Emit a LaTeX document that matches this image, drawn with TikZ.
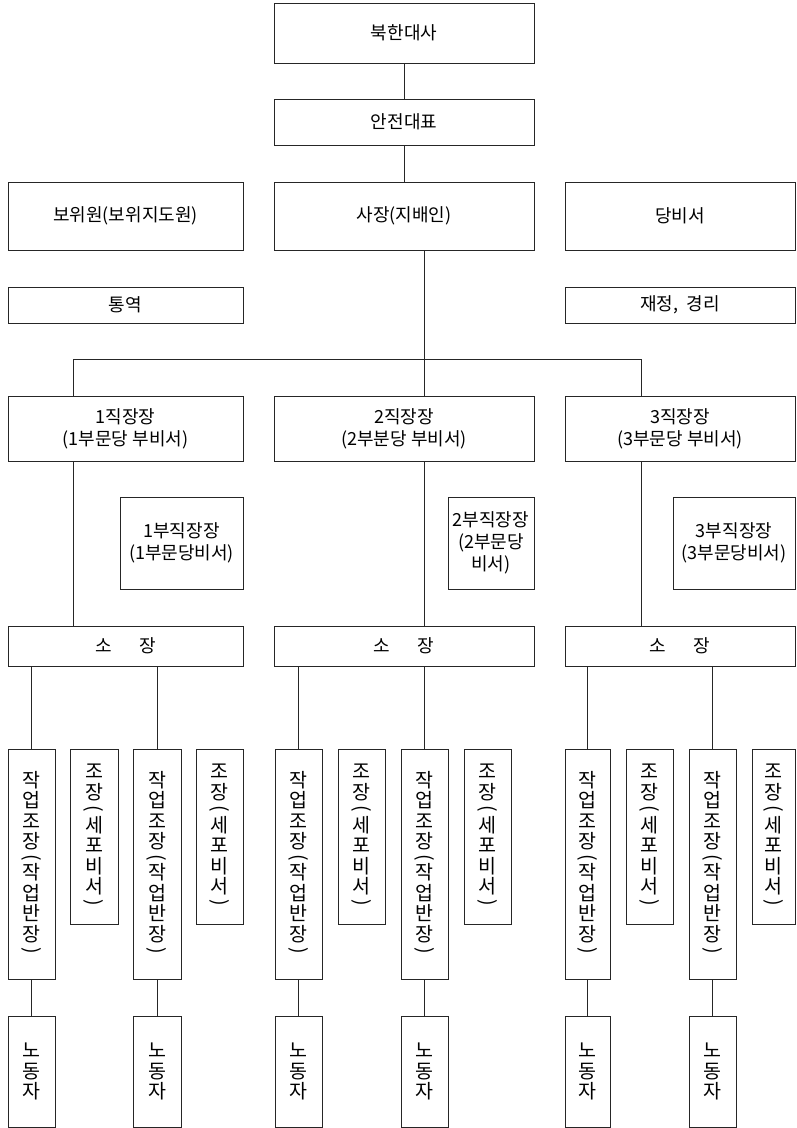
\documentclass[tikz,border=0pt]{standalone}
\usepackage{fontspec}
\usepackage{graphicx}
\setmainfont{Noto Sans CJK KR}
\newcommand\vparen[1]{\rotatebox[origin=c]{-90}{#1}}
\begin{document}
\begin{tikzpicture}[x=1pt,y=-1pt,
  box/.style={draw=black!85, line width=1pt, rectangle, inner sep=0pt, align=center,
    font=\fontsize{18}{22}\selectfont},
  vbox/.style={box, font=\fontsize{19.5}{20.5}\selectfont},
  conn/.style={draw=black!85, line width=1pt}]
\useasboundingbox (0,0) rectangle (796,1128);
% top
\node[box, minimum width=260, minimum height=60] (daesa) at (404,33) {북한대사};
\node[box, minimum width=260, minimum height=46] (anjeon) at (404,122) {안전대표};
\node[box, minimum width=235, minimum height=68] (bowi) at (125.5,216) {보위원(보위지도원)};
\node[box, minimum width=260, minimum height=68] (saj) at (404,216) {사장(지배인)};
\node[box, minimum width=230, minimum height=68] (dang) at (680,216) {당비서};
\node[box, minimum width=235, minimum height=36] (tong) at (125.5,305) {통역};
\node[box, minimum width=230, minimum height=36] (jae) at (680,305) {재정,\ \ 경리};
% workshop chiefs
\node[box, minimum width=235, minimum height=65] (jj1) at (125.5,428.5) {1직장장\\(1부문당 부비서)};
\node[box, minimum width=260, minimum height=65] (jj2) at (404,428.5) {2직장장\\(2부분당 부비서)};
\node[box, minimum width=230, minimum height=65] (jj3) at (680,428.5) {3직장장\\(3부문당 부비서)};
% deputies
\node[box, minimum width=123, minimum height=92] (bj1) at (181.5,543) {1부직장장\\(1부문당비서)};
\node[box, minimum width=86, minimum height=92] (bj2) at (491,543) {2부직장장\\(2부문당\\비서)};
\node[box, minimum width=122, minimum height=92] (bj3) at (734,543) {3부직장장\\(3부문당비서)};
% so-jang
\node[box, minimum width=235, minimum height=40] (so1) at (125.5,646) {소\hspace{27pt}장};
\node[box, minimum width=260, minimum height=40] (so2) at (404,646) {소\hspace{27pt}장};
\node[box, minimum width=230, minimum height=40] (so3) at (680,646) {소\hspace{27pt}장};
% work team leaders and cell secretaries
\def\wtext{작\\업\\조\\장\\[-5pt]\vparen{(}\\[-5pt]작\\업\\반\\장\\[-5pt]\vparen{)}}
\def\ctext{조\\장\\[-5pt]\vparen{(}\\[-3pt]세\\포\\비\\서\\[-5pt]\vparen{)}}
\def\ntext{노\\동\\자}
\foreach \n/\cx/\ww in {1/31.5/47, 2/157/48, 3/298.5/47, 4/424.5/47, 5/587.5/45, 6/712.5/47}{
  \node[vbox, minimum width=\ww, minimum height=230] (w\n) at (\cx,864) {\wtext};
  \node[vbox, minimum width=\ww, minimum height=111] (n\n) at (\cx,1071.5) {\ntext};
}
\foreach \n/\cx/\ww in {1/94/48, 2/219.5/47, 3/361.5/47, 4/487.5/47, 5/649.5/47, 6/773.5/43}{
  \node[vbox, minimum width=\ww, minimum height=175] (c\n) at (\cx,836.5) {\ctext};
}
% guide coordinates
\coordinate (X1) at (73,0);
\coordinate (X2) at (424,0);
\coordinate (X3) at (641,0);
\coordinate (bus) at (0,359);
% connectors
\draw[conn] (daesa.south) -- (anjeon.north);
\draw[conn] (anjeon.south) -- (saj.north);
\draw[conn] (saj.south -| X2) -- (jj2.north -| X2);
\draw[conn] (jj1.north -| X1) -- (X1 |- bus) -- (X3 |- bus) -- (jj3.north -| X3);
\draw[conn] (jj1.south -| X1) -- (so1.north -| X1);
\draw[conn] (jj2.south -| X2) -- (so2.north -| X2);
\draw[conn] (jj3.south -| X3) -- (so3.north -| X3);
\draw[conn] (so1.south -| w1) -- (w1.north);
\draw[conn] (so1.south -| w2) -- (w2.north);
\draw[conn] (so2.south -| w3) -- (w3.north);
\draw[conn] (so2.south -| w4) -- (w4.north);
\draw[conn] (so3.south -| w5) -- (w5.north);
\draw[conn] (so3.south -| w6) -- (w6.north);
\foreach \n in {1,...,6}{
  \draw[conn] (w\n.south) -- (n\n.north);
}
\end{tikzpicture}
\end{document}
